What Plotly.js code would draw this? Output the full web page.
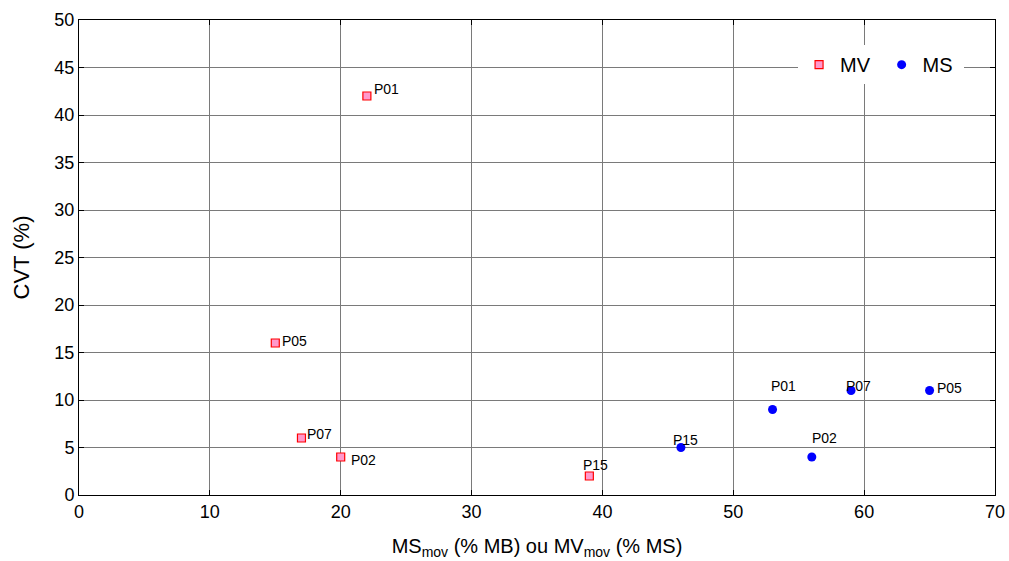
<!DOCTYPE html>
<html><head><meta charset="utf-8">
<script src="https://cdn.plot.ly/plotly-3.0.1.min.js"></script>
<style>body{margin:0;background:#fff}#c{width:1009px;height:561px}</style>
</head><body><div id="c"></div>
<script>
const mvLabels = ['P01','P05','P07','P02','P15'];
const mvX = [22, 15, 17, 20, 39];
const mvY = [42, 16, 6, 4, 2];
const msLabels = ['P01','P07','P05','P02','P15'];
const msX = [53, 59, 65, 56, 46];
const msY = [9, 11, 11, 4, 5];
const xTicks = [0,10,20,30,40,50,60,70];
const yTicks = [0,5,10,15,20,25,30,35,40,45,50];

// label offsets in pixels (style only)
const mvShift = [[20,7],[19,2],[18,4],[23,-3],[6,11]];
const msShift = [[11,24],[7,5],[20,3],[13,19],[5,8]];

const font = 'Liberation Sans, Arial, sans-serif';
const traces = [
  {x: mvX, y: mvY, name: 'MV ', type: 'scatter', mode: 'markers',
   marker: {symbol: 'square', size: 8, color: '#ff99cc', line: {color: '#ff0000', width: 1.2}}},
  {x: msX, y: msY, name: 'MS ', type: 'scatter', mode: 'markers',
   marker: {symbol: 'circle', size: 9, color: '#0000ff'}}
];
const annotations = [];
function addLabels(xs, ys, labels, shifts) {
  xs.forEach((x, i) => annotations.push({x: x, y: ys[i], text: labels[i], showarrow: false,
    xanchor: 'center', yanchor: 'middle', xshift: shifts[i][0], yshift: shifts[i][1],
    font: {family: font, size: 14, color: '#000'}}));
}
addLabels(mvX, mvY, mvLabels, mvShift);
addLabels(msX, msY, msLabels, msShift);

const ax = {showgrid: true, gridcolor: '#7a7a7a', gridwidth: 1, zeroline: false,
  showline: true, linecolor: '#000', linewidth: 1, mirror: 'allticks',
  ticks: 'inside', ticklen: 5, tickcolor: '#000', tickfont: {family: font, size: 18, color: '#000'}};
const layout = {
  width: 1009, height: 561, paper_bgcolor: '#fff', plot_bgcolor: '#fff',
  margin: {l: 79, r: 14, t: 20, b: 66},
  showlegend: true,
  annotations: annotations,
  legend: {x: 0.785, y: 0.947, xanchor: 'left', yanchor: 'top', orientation: 'h',
    bgcolor: '#fff', borderwidth: 0, font: {family: font, size: 20, color: '#000'}, itemwidth: 32},
  xaxis: Object.assign({}, ax, {range: [0, 70], tickvals: xTicks,
    title: {text: 'MS<sub>mov</sub> (% MB) ou MV<sub>mov</sub> (% MS)', font: {family: font, size: 20, color: '#000'}, standoff: 18}}),
  yaxis: Object.assign({}, ax, {range: [0, 50], tickvals: yTicks,
    title: {text: 'CVT (%)', font: {family: font, size: 22, color: '#000'}, standoff: 18}})
};
Plotly.newPlot('c', traces, layout, {displayModeBar: false});
</script></body></html>
